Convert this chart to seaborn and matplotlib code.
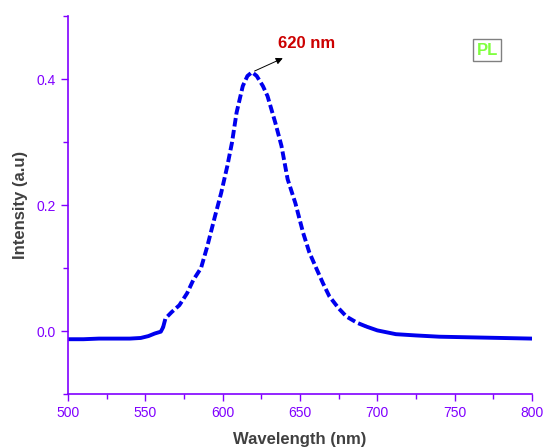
import numpy as np
import pandas as pd
import matplotlib
matplotlib.use('Agg')
import matplotlib.pyplot as plt
from matplotlib.ticker import MultipleLocator
import seaborn as sns

# PL spectrum
wavelength = [500, 510, 520, 530, 540, 547, 552, 556, 560, 561.5, 563, 567, 572, 577,
              581, 586, 590, 595, 599, 603, 606, 609, 613, 616, 619, 622, 626, 629,
              634, 638, 642, 647, 652, 656, 661, 665, 669, 675, 680, 687, 693, 700,
              712, 725, 740, 760, 780, 800]
intensity = [-0.013, -0.013, -0.012, -0.012, -0.012, -0.011, -0.008, -0.004, -0.001, 0.006,
             0.020, 0.030, 0.041, 0.060, 0.081, 0.100, 0.134, 0.182, 0.219, 0.262,
             0.299, 0.347, 0.389, 0.405, 0.411, 0.405, 0.389, 0.373, 0.331, 0.294,
             0.241, 0.203, 0.156, 0.125, 0.097, 0.075, 0.055, 0.036, 0.023, 0.013,
             0.007, 0.001, -0.005, -0.007, -0.009, -0.010, -0.011, -0.012]
peak_wl = 619
peak_val = 0.411

sns.set_style('white')
plt.rcParams['font.family'] = ['Liberation Sans', 'DejaVu Sans']

purple = '#8000ff'
df = pd.DataFrame({'wl': wavelength, 'I': intensity})

fig = plt.figure(figsize=(5.44, 4.48), dpi=100)
ax = fig.add_axes([0.125, 0.1205, 0.853, 0.8435])

# noisy flat tails look solid, the peak is dashed
mid = (df['wl'] >= 561.5) & (df['wl'] <= 693)
sns.lineplot(data=df[df['wl'] <= 561.5], x='wl', y='I', color='#0000ee', lw=2.8, ax=ax)
sns.lineplot(data=df[df['wl'] >= 693], x='wl', y='I', color='#0000ee', lw=2.8, ax=ax)
sns.lineplot(data=df[mid], x='wl', y='I', color='#0000ee', lw=2.8, ax=ax,
             linestyle=(0, (2.2, 0.9)))

ax.set_xlim(500, 800)
ax.set_ylim(-0.1, 0.5)
ax.xaxis.set_major_locator(MultipleLocator(50))
ax.xaxis.set_minor_locator(MultipleLocator(25))
ax.yaxis.set_major_locator(MultipleLocator(0.2))
ax.yaxis.set_minor_locator(MultipleLocator(0.1))
ax.yaxis.set_major_formatter(matplotlib.ticker.FormatStrFormatter('%.1f'))

for s in ['top', 'right']:
    ax.spines[s].set_visible(False)
for s in ['left', 'bottom']:
    ax.spines[s].set_color(purple)
    ax.spines[s].set_linewidth(1.2)

ax.tick_params(axis='both', which='major', direction='out', length=5, width=1,
               color=purple, labelcolor=purple, labelsize=10, left=True, bottom=True)
ax.tick_params(axis='both', which='minor', direction='out', length=3.5, width=1,
               color=purple, left=True, bottom=True)

ax.set_xlabel('Wavelength (nm)', fontsize=12, fontweight='bold', color='#404040', labelpad=9)
ax.set_ylabel('Intensity (a.u)', fontsize=12, fontweight='bold', color='#404040', labelpad=6)

ax.annotate('', xy=(640.5, 0.435), xytext=(peak_wl, peak_val),
            arrowprops=dict(arrowstyle='-|>', color='black', lw=0.7, mutation_scale=10))
ax.text(654, 0.457, '620 nm', color='#cc0000', fontsize=12, fontweight='bold',
        ha='center', va='center')
ax.text(771, 0.446, 'PL', color='#80ff40', fontsize=12, fontweight='bold',
        ha='center', va='center',
        bbox=dict(boxstyle='square,pad=0.2', fc='white', ec='#808080', lw=1))

plt.savefig('out.png', dpi=100)
